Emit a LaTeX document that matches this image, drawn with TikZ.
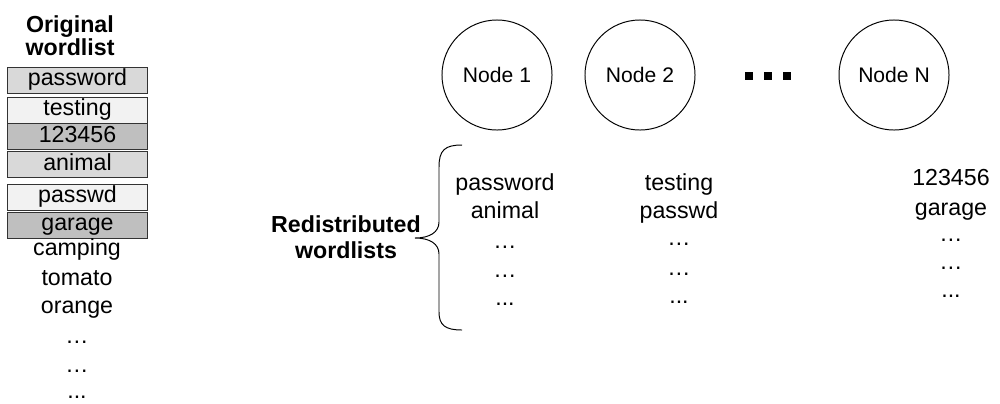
\documentclass[tikz,border=0pt]{standalone}
\usepackage{fontspec}
\setmainfont{Liberation Sans}
\usepackage{tikz}
\usetikzlibrary{positioning}

\definecolor{boxlight}{HTML}{F2F2F2}
\definecolor{boxmid}{HTML}{D9D9D9}
\definecolor{boxdark}{HTML}{BFBFBF}
\newcommand{\wfont}{\fontsize{16.5}{18}\selectfont}

\begin{document}
\begin{tikzpicture}[x=0.025cm, y=-0.025cm,
        word/.style={anchor=base, inner sep=0pt, font=\wfont},
        title/.style={anchor=base, inner sep=0pt, font=\wfont\bfseries},
        wordbox/.style={draw=black!80, line width=0.7pt, minimum width=3.475cm, minimum height=0.65cm,
            inner sep=0pt, text height=11.8pt, text depth=3.5pt, font=\wfont},
        server/.style={draw, circle, line width=0.7pt, minimum size=2.75cm, inner sep=0pt,
            font=\fontsize{15}{17}\selectfont}]
    \useasboundingbox (0,0) rectangle (1000,403);
    % original wordlist
    \node[title] (orig1) at (70,32) {Original};
    \node[title] (orig2) at (70,55) {wordlist};
    \foreach \w/\y/\c [count=\i] in {password/80/boxmid, testing/110/boxlight, 123456/136.5/boxdark,
            animal/164.5/boxmid, passwd/197/boxlight, garage/225/boxdark}
        \node[wordbox, fill=\c] (box\i) at (77.5,\y) {\w};
    \foreach \w/\y [count=\i] in {camping/255, tomato/285, orange/313, {…}/343, {…}/372, {...}/398}
        \node[word] (rest\i) at (77,\y) {\w};
    % nodes
    \node[server] (n1) at (497,75) {Node 1};
    \node[server] (n2) at (640,75) {Node 2};
    \node[server] (nN) at (894,75) {Node N};
    \foreach \x in {749,768,787}
        \fill (\x-4,72) rectangle (\x+4,80);
    % redistributed wordlists
    \node[title] (redist1) at (346,232) {Redistributed};
    \node[title] (redist2) at (346,258) {wordlists};
    \draw[line width=0.7pt] (462,145) .. controls (445,145) and (439,150) .. (439,167) -- (439,222)
        .. controls (439,232) and (430,238) .. (415,238) .. controls (430,238) and (439,244) .. (439,254)
        -- (439,312) .. controls (439,325) and (445,330) .. (462,330);
    \foreach \w/\y [count=\i] in {password/190, animal/218, {…}/248, {…}/277, {...}/305}
        \node[word] (a\i) at (505,\y) {\w};
    \foreach \w/\y [count=\i] in {testing/190, passwd/218, {…}/245, {…}/275, {...}/303}
        \node[word] (b\i) at (679,\y) {\w};
    \foreach \w/\y [count=\i] in {123456/185, garage/215, {…}/241, {…}/269, {...}/297}
        \node[word] (c\i) at (951,\y) {\w};
\end{tikzpicture}
\end{document}
